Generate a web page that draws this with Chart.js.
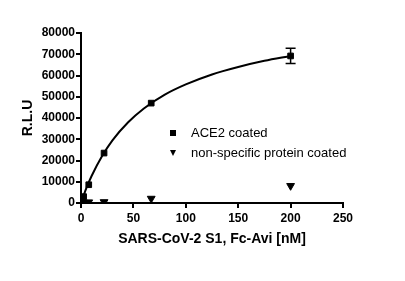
<!DOCTYPE html>
<html>
<head>
<meta charset="utf-8">
<script src="https://cdn.jsdelivr.net/npm/chart.js@4/dist/chart.umd.min.js"></script>
<style>
  html, body { margin: 0; padding: 0; background: #fff; }
  #wrap { width: 405px; height: 281px; }
</style>
</head>
<body>
<div id="wrap"><canvas id="grafico" width="405" height="281"></canvas></div>
<script>
// concentrations [nM]
const conc = [0.08, 0.25, 0.8, 2.5, 7.4, 22, 67, 200];
// ACE2 coated (R.L.U)
const ace2 = [300, 700, 1400, 3000, 8600, 23500, 47000, 69200];
const ace2Err = [0, 0, 0, 0, 0, 0, 0, 3600];
// non-specific protein coated
const nonSpec = [100, 100, 200, 300, 400, 500, 2100, 8100];
// fitted curve
const fitX = [0, 2.5, 5, 10, 20, 30, 45, 60, 80, 100, 125, 150, 175, 200];
const fitY = [0, 3500, 6900, 12600, 22000, 29500, 38000, 44500, 51000, 55800, 60500, 64000, 66900, 69200];

const legendLabels = ['ACE2 coated', 'non-specific protein coated'];

const pts = (xs, ys) => xs.map((x, i) => ({ x: x, y: ys[i] }));

// barra de erro no ultimo ponto
const errorBars = {
    id: 'errorBars',
    afterDatasetsDraw(chart) {
        const { ctx, scales: { x, y } } = chart;
        ctx.save();
        ctx.strokeStyle = '#000';
        ctx.lineWidth = 1.5;
        conc.forEach((c, i) => {
            if (!ace2Err[i]) return;
            const px = x.getPixelForValue(c);
            const top = y.getPixelForValue(ace2[i] + ace2Err[i]);
            const bot = y.getPixelForValue(ace2[i] - ace2Err[i]);
            ctx.beginPath();
            ctx.moveTo(px, top); ctx.lineTo(px, bot);
            ctx.moveTo(px - 5, top); ctx.lineTo(px + 5, top);
            ctx.moveTo(px - 5, bot); ctx.lineTo(px + 5, bot);
            ctx.stroke();
        });
        ctx.restore();
    }
};

// legenda dentro da area do grafico
const innerLegend = {
    id: 'innerLegend',
    afterDraw(chart) {
        const { ctx, chartArea } = chart;
        const lx = chartArea.left + 92;
        const ly = chartArea.top + 100;
        ctx.save();
        ctx.fillStyle = '#000';
        // quadrado
        ctx.fillRect(lx - 3, ly - 3, 6, 6);
        // triangulo para baixo
        ctx.beginPath();
        ctx.moveTo(lx - 3, ly + 17);
        ctx.lineTo(lx + 3, ly + 17);
        ctx.lineTo(lx, ly + 23);
        ctx.closePath();
        ctx.fill();
        ctx.font = '13px "Liberation Sans", Arial, sans-serif';
        ctx.textBaseline = 'middle';
        ctx.fillText(legendLabels[0], lx + 18, ly);
        ctx.fillText(legendLabels[1], lx + 18, ly + 20);
        ctx.restore();
    }
};

const ctx = document.getElementById('grafico').getContext('2d');

new Chart(ctx, {
    type: 'scatter',
    data: {
        datasets: [{
            label: 'fit',
            type: 'line',
            data: pts(fitX, fitY),
            borderColor: '#000',
            borderWidth: 2,
            pointRadius: 0,
            cubicInterpolationMode: 'monotone',
            fill: false,
            order: 3
        }, {
            label: legendLabels[0],
            data: pts(conc, ace2),
            pointStyle: 'rect',
            pointRadius: 4,
            backgroundColor: '#000',
            borderColor: '#000',
            order: 1
        }, {
            label: legendLabels[1],
            data: pts(conc, nonSpec),
            pointStyle: 'triangle',
            rotation: 180,
            pointRadius: 4.5,
            backgroundColor: '#000',
            borderColor: '#000',
            order: 2
        }]
    },
    options: {
        responsive: false,
        animation: false,
        layout: {
            padding: { left: 0, top: 33, right: 62, bottom: 28 }
        },
        plugins: {
            legend: { display: false },
            title: { display: false },
            tooltip: { enabled: false }
        },
        scales: {
            x: {
                type: 'linear',
                min: 0,
                max: 250,
                afterFit: (s) => { s.height = 50; },
                border: { display: true, color: '#000', width: 2 },
                grid: { drawOnChartArea: false, drawTicks: true, tickLength: 5, color: '#000', lineWidth: 2 },
                ticks: {
                    stepSize: 50,
                    padding: 3,
                    color: '#000',
                    font: { family: '"Liberation Sans", Arial', size: 12, weight: 'bold' }
                },
                title: {
                    display: true,
                    text: 'SARS-CoV-2 S1, Fc-Avi [nM]',
                    color: '#000',
                    padding: { top: 0, bottom: 5 },
                    font: { family: '"Liberation Sans", Arial', size: 14, weight: 'bold' }
                }
            },
            y: {
                min: 0,
                max: 80000,
                afterFit: (s) => { s.width = 81; },
                border: { display: true, color: '#000', width: 2 },
                grid: { drawOnChartArea: false, drawTicks: true, tickLength: 5, color: '#000', lineWidth: 2 },
                ticks: {
                    stepSize: 10000,
                    padding: 1,
                    color: '#000',
                    callback: (v) => String(v),
                    font: { family: '"Liberation Sans", Arial', size: 12, weight: 'bold' }
                },
                title: {
                    display: true,
                    text: 'R.L.U',
                    color: '#000',
                    padding: { top: 20, bottom: 0 },
                    font: { family: '"Liberation Sans", Arial', size: 14, weight: 'bold' }
                }
            }
        }
    },
    plugins: [errorBars, innerLegend]
});
</script>
</body>
</html>
